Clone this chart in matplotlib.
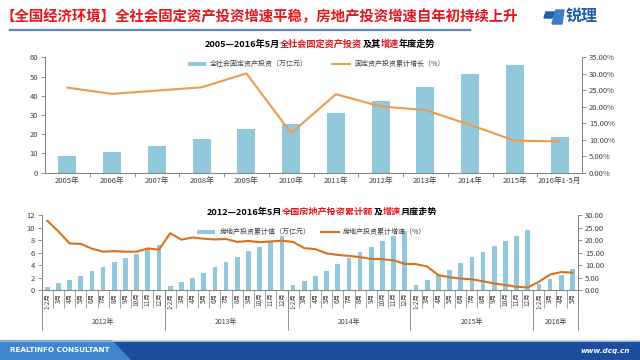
import matplotlib
matplotlib.use('Agg')
import matplotlib.pyplot as plt
import matplotlib.transforms as mtransforms
from matplotlib.patches import Polygon, Rectangle

plt.rcParams['font.family'] = ['Noto Sans CJK SC', 'DejaVu Sans']

# ---- data: annual fixed asset investment ----
years = ['2005年', '2006年', '2007年', '2008年', '2009年', '2010年',
         '2011年', '2012年', '2013年', '2014年', '2015年', '2016年1-5月']
fai_value = [8.9, 11.0, 13.7, 17.3, 22.5, 25.2, 31.1, 37.5, 44.6, 51.2, 56.2, 18.8]
fai_growth = [25.8, 23.9, 24.9, 25.9, 30.1, 12.0, 23.8, 20.1, 19.0, 14.5, 9.7, 9.5]

# ---- data: monthly real estate investment ----
month_labels = ['1-2月', '3月', '4月', '5月', '6月', '7月', '8月', '9月', '10月', '11月', '12月']
group_years = ['2012年', '2013年', '2014年', '2015年', '2016年']
group_sizes = [11, 11, 11, 11, 4]
re_value = [0.56, 1.12, 1.66, 2.26, 3.11, 3.69, 4.42, 5.12, 5.74, 6.62, 7.18,
            0.68, 1.34, 1.99, 2.68, 3.68, 4.45, 5.23, 6.19, 6.89, 7.80, 8.60,
            0.79, 1.52, 2.21, 3.06, 4.25, 5.16, 6.05, 6.96, 7.84, 8.75, 9.50,
            0.83, 1.66, 2.36, 3.21, 4.39, 5.23, 6.07, 7.06, 7.90, 8.75, 9.60,
            0.91, 1.72, 2.45, 3.34]
re_growth = [27.8, 23.5, 18.7, 18.5, 16.6, 15.4, 15.6, 15.4, 15.4, 16.7, 16.2,
             22.8, 20.2, 21.1, 20.6, 20.3, 20.5, 19.3, 19.7, 19.2, 19.5, 19.8,
             19.3, 16.8, 16.4, 14.7, 14.1, 13.7, 13.2, 12.5, 12.4, 11.9, 10.5,
             10.4, 9.4, 6.0, 5.1, 4.6, 4.3, 3.5, 2.6, 2.0, 1.3, 1.0,
             3.3, 6.2, 7.2, 7.0]

W, H = 640, 360
BAR = '#92C8DC'
RED = '#E8141B'
GRAY = '#808080'
TXT = '#404040'

fig = plt.figure(figsize=(6.4, 3.6), dpi=100)
bg = fig.add_axes([0, 0, 1, 1])
bg.set_xlim(0, W)
bg.set_ylim(H, 0)
bg.axis('off')
renderer = fig.canvas.get_renderer()


def px_axes(x0, x1, ytop, ybot):
    return fig.add_axes([x0 / W, (H - ybot) / H, (x1 - x0) / W, (ybot - ytop) / H])


def rich_text(x, y, parts, size):
    # place coloured pieces one after another on the same line
    for s, c in parts:
        t = bg.text(x, y, s, color=c, fontsize=size, fontweight='bold',
                    va='center', ha='left')
        x += t.get_window_extent(renderer).width


# header
bg.text(1, 17, '【全国经济环境】全社会固定资产投资增速平稳，房地产投资增速自年初持续上升',
        color=RED, fontsize=10.4, fontweight='bold', va='center', ha='left')
bg.plot([10, 470], [29.5, 29.5], color='#5B87C0', lw=1.6)
bg.add_patch(Polygon([[546, 12], [556, 12], [552, 18], [544, 18]], color='#1F5FA8'))
bg.add_patch(Polygon([[556, 10], [564, 10], [562, 24], [552, 24]], color='#3A7FC8'))
bg.text(566, 16, '锐理', color='#1F5FA8', fontsize=11.5, fontweight='bold',
        va='center', ha='left')

# footer
bg.add_patch(Rectangle((0, 341), W, 19, color='#1D4E9E'))
bg.add_patch(Polygon([[0, 341], [112, 341], [130, 360], [0, 360]], color='#3F86CC'))
bg.plot([0, W], [341, 341], color='#8FB6E0', lw=0.8)
bg.text(10, 350.5, 'REALTINFO CONSULTANT', color='white', fontsize=5.2,
        fontweight='bold', va='center', ha='left', family='DejaVu Sans')
bg.text(630, 350.5, 'www.dcq.cn', color='white', fontsize=5.2, style='italic',
        fontweight='bold', va='center', ha='right', family='DejaVu Sans')

# ---------------- top chart ----------------
rich_text(205, 44, [('2005—2016年5月', 'black'), ('全社会固定资产投资', RED),
                    ('及其', 'black'), ('增速', RED), ('年度走势', 'black')], 6.6)

ax1 = px_axes(45, 582, 57.3, 172.7)
x1 = list(range(len(years)))
b1 = ax1.bar(x1, fai_value, width=0.4, color=BAR, zorder=2)
ax1.set_xlim(-0.5, len(years) - 0.5)
ax1.set_ylim(0, 60)
ax1.set_yticks(range(0, 61, 10))
ax1.set_xticks(x1)
ax1.set_xticklabels(years)
ax1.set_xticks([i + 0.5 for i in x1[:-1]], minor=True)
ax1.tick_params(axis='x', which='major', length=0, pad=3, labelsize=5.5, labelcolor=TXT)
ax1.tick_params(axis='x', which='minor', length=3, color=GRAY, width=0.6)
ax1.tick_params(axis='y', length=3, color=GRAY, width=0.6, labelsize=5.5,
                labelcolor=TXT, pad=2)
ax1r = ax1.twinx()
l1, = ax1r.plot(x1, fai_growth, color='#EE9A4D', lw=1.5, zorder=3)
ax1r.set_ylim(0, 35)
ax1r.set_yticks(range(0, 36, 5))
ax1r.set_yticklabels([f'{v:.2f}%' for v in range(0, 36, 5)])
ax1r.tick_params(axis='y', length=3, color=GRAY, width=0.6, labelsize=5.5,
                 labelcolor=TXT, pad=2)
for a in (ax1, ax1r):
    a.spines['top'].set_visible(False)
    for s in ('left', 'right', 'bottom'):
        a.spines[s].set_color(GRAY)
        a.spines[s].set_linewidth(0.6)
ax1r.legend([b1, l1], ['全社会固定资产投资（万亿元）', '固定资产投资累计增长（%）'],
            loc='center', bbox_to_anchor=(0.505, 0.942), ncol=2, frameon=False,
            fontsize=5, labelcolor=TXT, handlelength=2.6, handleheight=0.5,
            columnspacing=3.5, handletextpad=0.6)

# ---------------- bottom chart ----------------
rich_text(207, 212, [('2012—2016年5月', 'black'), ('全国房地产投资累计额', RED),
                     ('及', 'black'), ('增速', RED), ('月度走势', 'black')], 6.6)

ax2 = px_axes(41.7, 578, 215.3, 290)
x2 = list(range(len(re_value)))
labels2 = []
for n in group_sizes:
    labels2 += month_labels[:n]
b2 = ax2.bar(x2, re_value, width=0.42, color=BAR, zorder=2)
ax2.set_xlim(-0.5, len(x2) - 0.5)
ax2.set_ylim(0, 12)
ax2.set_yticks(range(0, 13, 2))
ax2.set_xticks(x2)
ax2.set_xticklabels(labels2, rotation=90)
ax2.set_xticks([i - 0.5 for i in x2] + [len(x2) - 0.5], minor=True)
ax2.tick_params(axis='x', which='major', length=0, pad=2, labelsize=4.6, labelcolor=TXT)
ax2.tick_params(axis='x', which='minor', length=13, color=GRAY, width=0.5)
ax2.tick_params(axis='y', length=3, color=GRAY, width=0.6, labelsize=5.5,
                labelcolor=TXT, pad=2)
ax2r = ax2.twinx()
l2, = ax2r.plot(x2, re_growth, color='#D8711C', lw=1.5, zorder=3)
ax2r.set_ylim(0, 30)
ax2r.set_yticks(range(0, 31, 5))
ax2r.set_yticklabels([f'{v:.2f}' for v in range(0, 31, 5)])
ax2r.tick_params(axis='y', length=3, color=GRAY, width=0.6, labelsize=5.5,
                 labelcolor=TXT, pad=2)
for a in (ax2, ax2r):
    a.spines['top'].set_visible(False)
    for s in ('left', 'right', 'bottom'):
        a.spines[s].set_color(GRAY)
        a.spines[s].set_linewidth(0.6)

# year groups under the month labels
trans = mtransforms.blended_transform_factory(ax2.transData, ax2.transAxes)
start = -0.5
for yr, n in zip(group_years, group_sizes):
    ax2.plot([start, start], [0, -0.54], transform=trans, color=GRAY, lw=0.6,
             clip_on=False)
    ax2.text(start + n / 2, -0.43, yr, transform=trans, ha='center', va='center',
             fontsize=5, color=TXT)
    start += n
ax2.plot([start, start], [0, -0.54], transform=trans, color=GRAY, lw=0.6, clip_on=False)

ax2r.legend([b2, l2], ['房地产投资累计值（万亿元）', '房地产投资累计增速（%）'],
            loc='center', bbox_to_anchor=(0.504, 0.776), ncol=2, frameon=False,
            fontsize=5, labelcolor=TXT, handlelength=2.6, handleheight=0.5,
            columnspacing=1.5, handletextpad=0.6)

fig.savefig('out.png', dpi=100)
